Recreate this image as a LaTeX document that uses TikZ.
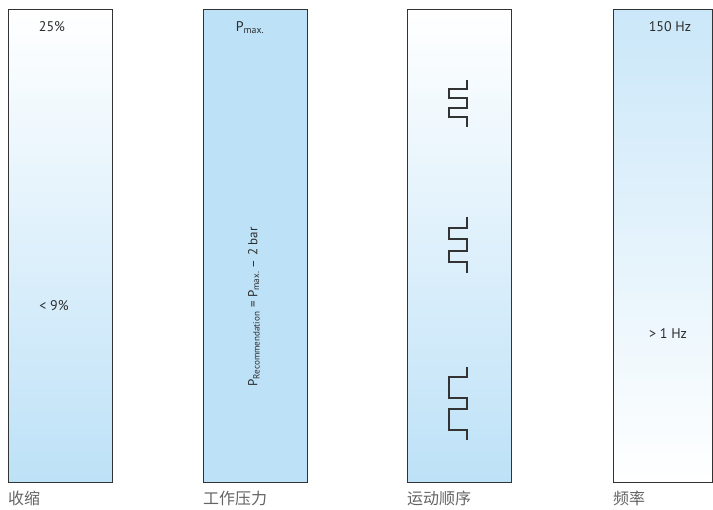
\documentclass[tikz,border=0pt]{standalone}
\usepackage{fontspec}
\setmainfont{PT Sans}
\newfontfamily\cjk{Noto Sans CJK SC}
\usetikzlibrary{positioning}

\definecolor{barblue}{RGB}{189,225,247}
\definecolor{framegray}{RGB}{51,51,51}
\definecolor{txtgray}{RGB}{45,45,45}
\definecolor{capgray}{RGB}{100,100,100}

\tikzset{
  bar/.style={draw=framegray, line width=1pt},
  val/.style={text=txtgray, font=\fontsize{14}{16}\selectfont, inner sep=0pt},
  caption/.style={text=capgray, font=\cjk\fontsize{16}{18}\selectfont, anchor=west, inner sep=0pt},
  pulse/.style={draw=framegray, line width=1.5pt}
}

\begin{document}
\begin{tikzpicture}[x=1pt, y=-1pt]
\useasboundingbox (0,0) rectangle (713,510);

% bars
\draw[bar, top color=white, bottom color=barblue] (8,10) rectangle (112,483);
\draw[bar, fill=barblue] (203,10) rectangle (307,483);
\draw[bar, top color=white, bottom color=barblue] (407,10) rectangle (511,483);
\draw[bar, top color=barblue!80, bottom color=white] (613,10) rectangle (712.5,483);

% values
\node[val] (shrinkmax) at (52,27) {25\%};
\node[val] (shrinkmin) at (54,306) {< 9\%};
\node[val] (pmax) at (250,28) {P\textsubscript{max.}};
\node[val, rotate=90, font=\fontsize{13}{15}\selectfont] (prec) at (254,307) {P\textsubscript{Recommendation} = P\textsubscript{max.} – 2 bar};
\node[val] (freqmax) at (670,27) {150 Hz};
\node[val] (freqmin) at (668,334) {> 1 Hz};

% pulses
\draw[pulse] (467,80) -- (467,89) -- (449,89) -- (449,98) -- (467,98)
  -- (467,108) -- (449,108) -- (449,117) -- (467,117) -- (467,127);
\draw[pulse] (467,217) -- (467,228) -- (449,228) -- (449,239) -- (467,239)
  -- (467,251) -- (449,251) -- (449,262) -- (467,262) -- (467,273);
\draw[pulse] (467,367) -- (467,377) -- (449,377) -- (449,398) -- (467,398)
  -- (467,409) -- (449,409) -- (449,430) -- (467,430) -- (467,440);

% captions
\node[caption] (shrink) at (8,498) {收缩};
\node[caption] (press) at (203,498) {工作压力};
\node[caption] (motion) at (407,498) {运动顺序};
\node[caption] (freq) at (613,498) {频率};

\end{tikzpicture}
\end{document}
